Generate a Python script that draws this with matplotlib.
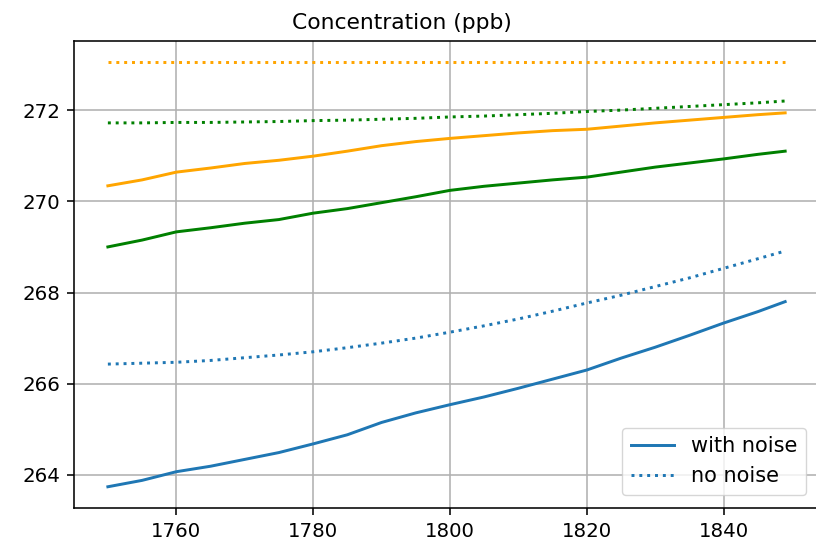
import matplotlib.pyplot as plt

anos = [1750, 1755, 1760, 1765, 1770, 1775, 1780, 1785, 1790, 1795, 1800,
        1805, 1810, 1815, 1820, 1825, 1830, 1835, 1840, 1845, 1849]

# com ruido (linhas cheias)
azul_ruido = [263.74, 263.88, 264.07, 264.19, 264.34, 264.49, 264.68, 264.88, 265.15, 265.36, 265.54,
              265.71, 265.90, 266.10, 266.30, 266.56, 266.80, 267.06, 267.33, 267.58, 267.80]
laranja_ruido = [270.34, 270.47, 270.64, 270.73, 270.83, 270.90, 270.99, 271.10, 271.22, 271.31, 271.38,
                 271.44, 271.50, 271.55, 271.58, 271.65, 271.72, 271.78, 271.84, 271.90, 271.94]
verde_ruido = [269.00, 269.15, 269.33, 269.42, 269.52, 269.60, 269.74, 269.84, 269.97, 270.10, 270.24,
               270.33, 270.40, 270.47, 270.53, 270.64, 270.75, 270.84, 270.93, 271.03, 271.10]

# sem ruido (pontilhadas)
azul_sem = [266.43, 266.45, 266.47, 266.51, 266.57, 266.63, 266.70, 266.79, 266.89, 267.00, 267.13,
            267.27, 267.42, 267.59, 267.77, 267.94, 268.13, 268.32, 268.53, 268.74, 268.91]
laranja_sem = [273.05] * len(anos)
verde_sem = [271.72, 271.72, 271.73, 271.73, 271.74, 271.75, 271.77, 271.78, 271.80, 271.82, 271.85,
             271.87, 271.90, 271.93, 271.97, 272.00, 272.04, 272.08, 272.12, 272.16, 272.20]

esc = 1.42
plt.rcParams['font.size'] = 10 * esc

fig = plt.figure(figsize=(8.16, 5.44), dpi=100)
ax = fig.add_axes([0.0907, 0.0662, 0.9130, 0.8584])

lw = 1.5 * esc
l1, = ax.plot(anos, azul_ruido, color='tab:blue', lw=lw, label='with noise')
l2, = ax.plot(anos, azul_sem, color='tab:blue', lw=lw, ls=':', label='no noise')
ax.plot(anos, laranja_ruido, color='orange', lw=lw)
ax.plot(anos, laranja_sem, color='orange', lw=lw, ls=':')
ax.plot(anos, verde_ruido, color='green', lw=lw)
ax.plot(anos, verde_sem, color='green', lw=lw, ls=':')

# o titulo do original nao fica centrado no eixo
ax.set_title('Concentration (ppb)', fontsize=15.7, x=0.44, pad=6 * esc)
ax.set_xticks([1760, 1780, 1800, 1820, 1840])
ax.set_yticks([264, 266, 268, 270, 272])
ax.grid(True, color='#b0b0b0', lw=0.8 * esc)
ax.tick_params(width=0.8 * esc, length=3.5 * esc, pad=3.5 * esc)
for s in ax.spines.values():
    s.set_linewidth(0.8 * esc)
ax.spines['right'].set_visible(False)
ax.legend(handles=[l1, l2], loc='lower right', fontsize=15, handlelength=2.1,
          borderaxespad=0.45 * esc)

fig.savefig('out.png', dpi=100)
